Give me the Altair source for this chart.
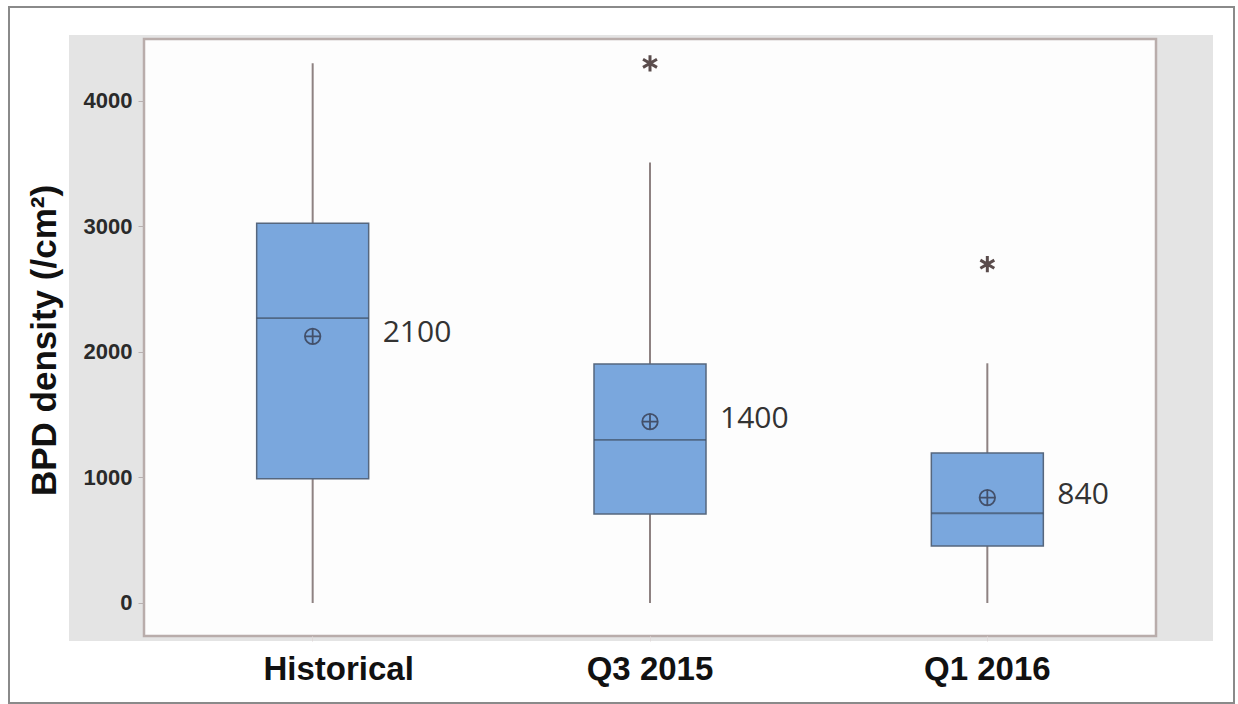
import altair as alt
import pandas as pd

categories = ["Historical", "Q3 2015", "Q1 2016"]
whisker_low = [0, 0, 0]
q1 = [990, 710, 455]
median = [2270, 1300, 715]
q3 = [3025, 1905, 1195]
whisker_high = [4300, 3510, 1910]
mean = [2125, 1445, 840]
mean_labels = ["2100", "1400", "840"]
outlier_cat = ["Q3 2015", "Q1 2016"]
outlier_val = [4300, 2700]
y_ticks = [0, 1000, 2000, 3000, 4000]

df = pd.DataFrame({
    "cat": categories, "low": whisker_low, "q1": q1, "median": median,
    "q3": q3, "high": whisker_high, "mean": mean, "label": mean_labels,
})
out_df = pd.DataFrame({"cat": outlier_cat, "val": outlier_val})

W, H = 1012, 597
FONT = "Liberation Sans"

xenc = alt.X("cat:N", sort=categories, title=None,
             scale=alt.Scale(paddingInner=0, paddingOuter=0),
             axis=alt.Axis(labelFontSize=33, labelFontWeight="bold", labelColor="#111",
                           labelFont=FONT, labelAngle=0, labelPadding=12,
                           labelOffset={"condition": {"test": "datum.value === 'Historical'", "value": 26}, "value": 0},
                           tickSize=5, tickColor="#e0dada", domain=False, zindex=2))
yscale = alt.Scale(domain=[-263, 4494], nice=False, zero=False)
yaxis = alt.Axis(values=y_ticks, format="d", labelFontSize=22, labelFontWeight="bold", labelColor="#2a2a2a",
                 labelFont=FONT, tickSize=6, tickColor="#b8b0b0", labelPadding=6,
                 domain=False, grid=False, zindex=2,
                 title="BPD density (/cm²)", titleFont=FONT, titleFontSize=35,
                 titleFontWeight="bold", titleColor="#111",
                 titleX=-100, titleY=301, titleAlign="center", titleBaseline="middle", titleAngle=-90)

one = alt.Data(values=[{"a": 1}])

outer = alt.Chart(one).mark_rect(fill="white", stroke="#8a8a8a", strokeWidth=2).encode(
    x=alt.value(-135), x2=alt.value(1090), y=alt.value(-32), y2=alt.value(664))
gray = alt.Chart(one).mark_rect(fill="#e4e4e4").encode(
    x=alt.value(-75), x2=alt.value(1069), y=alt.value(-4), y2=alt.value(602))
frame = alt.Chart(one).mark_rect(fill="#fdfdfd", stroke="#b9adab", strokeWidth=2.5).encode(
    x=alt.value(0), x2=alt.value(W), y=alt.value(0), y2=alt.value(H))

base = alt.Chart(df)
whisk = base.mark_rule(color="#8e8282", strokeWidth=2).encode(
    x=xenc, y=alt.Y("low:Q", scale=yscale, axis=yaxis), y2="high:Q")
box = base.mark_bar(size=112, fill="#7aa7dd", stroke="#56677e", strokeWidth=1.5).encode(
    x=alt.X("cat:N", sort=categories), y=alt.Y("q1:Q", scale=yscale), y2="q3:Q")
med = base.mark_tick(size=112, thickness=1.8, color="#3f4e62", orient="horizontal").encode(
    x=alt.X("cat:N", sort=categories), y=alt.Y("median:Q", scale=yscale))
mean_shape = "M-1,0A1,1,0,1,1,1,0A1,1,0,1,1,-1,0ZM-1,0L1,0M0,-1L0,1"
mpt = base.mark_point(shape=mean_shape, size=240, filled=False, stroke="#43506a",
                      strokeWidth=1.8, opacity=1).encode(
    x=alt.X("cat:N", sort=categories), y=alt.Y("mean:Q", scale=yscale))
txt = base.mark_text(align="left", baseline="middle", dx=70, dy=-3, fontSize=30,
                     font="Open Sans", color="#333").encode(
    x=alt.X("cat:N", sort=categories), y=alt.Y("mean:Q", scale=yscale), text="label:N")
star_shape = "M0,-1L0,1M-0.866,-0.5L0.866,0.5M-0.866,0.5L0.866,-0.5"
outl = alt.Chart(out_df).mark_point(shape=star_shape, size=260, filled=False, stroke="#5a4c4c",
                                    strokeWidth=3, opacity=1).encode(
    x=alt.X("cat:N", sort=categories), y=alt.Y("val:Q", scale=yscale))

chart = alt.layer(outer, gray, frame, whisk, box, med, mpt, txt, outl).properties(
    width=W, height=H,
    autosize=alt.AutoSizeParams(type="none"),
    padding={"left": 144, "top": 39, "right": 82, "bottom": 68},
    background="white",
).configure_view(stroke=None)

chart.save("out.html", embed_options={"renderer": "svg", "actions": False})
